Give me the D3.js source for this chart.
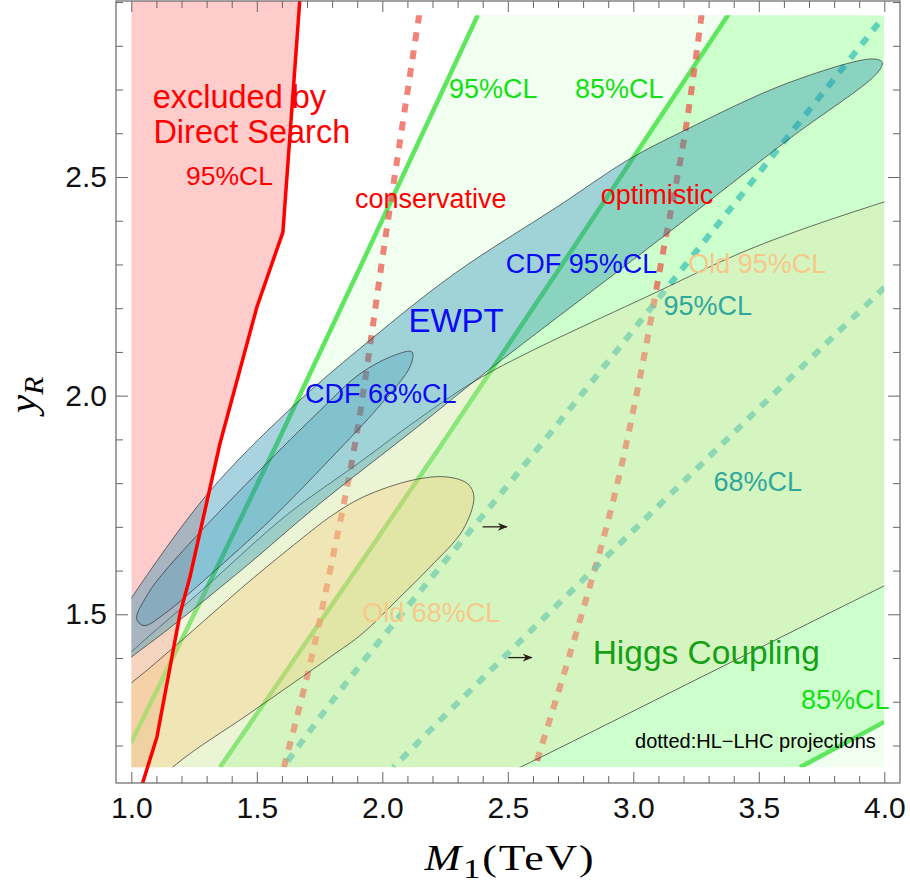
<!DOCTYPE html>
<html>
<head>
<meta charset="utf-8">
<script src="https://cdnjs.cloudflare.com/ajax/libs/d3/7.8.5/d3.min.js"></script>
<style>
  body { margin: 0; background: #fff; }
  svg { display: block; font-family: "Liberation Sans", Arial, sans-serif; }
</style>
</head>
<body>
<div id="chart-container"></div>
<script>
// plot range in data units
const xRange = [1.0, 4.0];
const yRange = [1.15, 2.87];

// ticks
const xMajorTicks = [1.0, 1.5, 2.0, 2.5, 3.0, 3.5, 4.0];
const xMinorTicks = [1.1, 1.2, 1.3, 1.4, 1.6, 1.7, 1.8, 1.9, 2.1, 2.2, 2.3, 2.4,
                     2.6, 2.7, 2.8, 2.9, 3.1, 3.2, 3.3, 3.4, 3.6, 3.7, 3.8, 3.9];
const yMajorTicks = [1.5, 2.0, 2.5];
const yMinorTicks = [1.2, 1.3, 1.4, 1.6, 1.7, 1.8, 1.9, 2.1, 2.2, 2.3, 2.4, 2.6, 2.7, 2.8, 2.9];

// direct search exclusion boundary (M1, yR)
const directSearch95 = [[1.672, 2.91], [1.604, 2.374], [1.501, 2.204], [1.353, 1.890],
                        [1.234, 1.586], [1.194, 1.501], [1.102, 1.219], [1.040, 1.105]];

// Higgs coupling bounds
const higgs95Edge = [[1.000, 1.207], [1.579, 1.889], [2.381, 2.871]];
const higgs85Edge = [[1.353, 1.150], [2.237, 1.889], [3.378, 2.871]];
const higgs85Lower = [[3.664, 1.150], [4.000, 1.254]];

// HL-LHC projections (dotted)
const hlConservative = [[2.147, 2.871], [2.017, 2.379], [1.891, 1.889], [1.792, 1.600], [1.712, 1.386], [1.608, 1.150]];
const hlOptimistic = [[3.272, 2.871], [3.206, 2.600], [3.120, 2.333], [3.027, 2.043], [2.920, 1.760], [2.775, 1.462], [2.608, 1.150]];
const hlHiggs95 = [[3.976, 2.851], [3.138, 2.249], [2.648, 1.899], [1.871, 1.354], [1.606, 1.151]];
const hlHiggs68 = [[4.000, 2.247], [3.353, 1.889], [2.303, 1.299], [2.044, 1.150]];

// EWPT contours
const oldEwpt95 = [[1.000, 1.414], [1.274, 1.551], [1.619, 1.727], [1.911, 1.848], [2.150, 1.949], [2.409, 2.047],
                   [3.086, 2.235], [3.485, 2.340], [4.000, 2.443], [4.302, 2.493], [4.501, 2.448], [4.381, 1.670],
                   [4.000, 1.565], [3.266, 1.355], [2.549, 1.150], [2.150, 1.041], [1.473, 0.938], [0.796, 1.007],
                   [0.716, 1.258]];
const oldEwpt68 = [[1.000, 1.343], [1.234, 1.457], [1.453, 1.567], [1.672, 1.670], [1.792, 1.723], [1.923, 1.768],
                   [2.122, 1.807], [2.258, 1.814], [2.341, 1.798], [2.365, 1.768], [2.321, 1.693], [2.190, 1.608],
                   [2.059, 1.533], [1.923, 1.457], [1.792, 1.402], [1.473, 1.274], [1.166, 1.151], [0.915, 1.007],
                   [0.716, 1.098], [0.796, 1.258]];
const cdf95 = [[0.796, 1.304], [0.895, 1.441], [1.000, 1.537], [1.306, 1.777], [1.632, 1.969], [1.951, 2.127],
               [2.290, 2.280], [2.708, 2.436], [2.979, 2.539], [3.206, 2.607], [3.616, 2.715], [3.951, 2.770],
               [3.991, 2.763], [3.975, 2.740], [3.616, 2.585], [3.138, 2.372], [2.409, 2.052], [2.150, 1.933],
               [1.740, 1.748], [1.453, 1.608], [1.154, 1.469], [1.000, 1.402], [0.875, 1.345]];
const cdf68 = [[1.021, 1.490], [1.070, 1.550], [1.114, 1.585], [1.274, 1.688], [1.513, 1.830], [1.752, 1.966],
               [1.911, 2.050], [2.051, 2.093], [2.118, 2.100], [2.112, 2.068], [1.991, 1.978], [1.792, 1.855],
               [1.553, 1.715], [1.314, 1.590], [1.134, 1.502], [1.050, 1.474]];

// small arrows
const arrows = [[[2.400, 1.700], [2.496, 1.700]], [[2.502, 1.401], [2.595, 1.401]]];

const width = 910;
const height = 888;
const frame = {left: 116, right: 900, top: 1, bottom: 783};

const x = d3.scaleLinear().domain([0.939, 4.0625]).range([frame.left, frame.right]);
const y = d3.scaleLinear().domain([1.1142, 2.9025]).range([frame.bottom, frame.top]);

const svg = d3.select("#chart-container")
    .append("svg")
    .attr("width", width)
    .attr("height", height);

const defs = svg.append("defs");
defs.append("clipPath").attr("id", "plot-clip")
    .append("rect")
    .attr("x", x(xRange[0])).attr("y", y(yRange[1]))
    .attr("width", x(xRange[1]) - x(xRange[0]))
    .attr("height", y(yRange[0]) - y(yRange[1]));
defs.append("clipPath").attr("id", "frame-clip")
    .append("rect")
    .attr("x", frame.left).attr("y", frame.top)
    .attr("width", frame.right - frame.left)
    .attr("height", frame.bottom - frame.top);
defs.append("clipPath").attr("id", "red-clip")
    .append("rect")
    .attr("x", x(xRange[0])).attr("y", frame.top)
    .attr("width", frame.right - x(xRange[0]))
    .attr("height", y(yRange[0]) - frame.top);
defs.append("marker")
    .attr("id", "arrowhead")
    .attr("viewBox", "0 0 10 8")
    .attr("refX", 9).attr("refY", 4)
    .attr("markerWidth", 10).attr("markerHeight", 8)
    .attr("markerUnits", "userSpaceOnUse")
    .attr("orient", "auto")
    .append("path")
    .attr("d", "M0,0 L10,4 L0,8 L3,4 Z")
    .attr("fill", "#2a2016");

const line = d3.line().x(d => x(d[0])).y(d => y(d[1]));
const smooth = d3.line().x(d => x(d[0])).y(d => y(d[1])).curve(d3.curveCatmullRom.alpha(0.5));
const closedSmooth = d3.line().x(d => x(d[0])).y(d => y(d[1])).curve(d3.curveCatmullRomClosed.alpha(0.5));
const polygon = d3.line().x(d => x(d[0])).y(d => y(d[1])).curve(d3.curveLinearClosed);

// Direct search excluded region
const topY = y.domain()[1];
svg.append("path")
    .attr("clip-path", "url(#red-clip)")
    .attr("d", polygon([[xRange[0], topY], ...directSearch95, [xRange[0], directSearch95[directSearch95.length - 1][1]]]))
    .attr("fill", "#ffcccc");

// Higgs coupling regions
const plot = svg.append("g").attr("clip-path", "url(#plot-clip)");
plot.append("path")
    .attr("d", polygon([...higgs95Edge, [xRange[1], yRange[1]], [xRange[1], yRange[0]], [xRange[0], yRange[0]]]))
    .attr("fill", "#00ff00").attr("fill-opacity", 0.06);
plot.append("path")
    .attr("d", polygon([...higgs85Edge, [xRange[1], yRange[1]], ...higgs85Lower.slice().reverse()]))
    .attr("fill", "#00ff00").attr("fill-opacity", 0.15);

// Direct search boundary
svg.append("path")
    .attr("clip-path", "url(#frame-clip)")
    .attr("d", line(directSearch95))
    .attr("fill", "none").attr("stroke", "#ff0000").attr("stroke-width", 3.5);

// Higgs coupling boundaries
[higgs95Edge, higgs85Edge, higgs85Lower].forEach(pts => {
    plot.append("path")
        .attr("d", smooth(pts))
        .attr("fill", "none").attr("stroke", "#5fe65f").attr("stroke-width", 4.5);
});

// HL-LHC dotted projections
[hlConservative, hlOptimistic].forEach(pts => {
    plot.append("path")
        .attr("d", smooth(pts))
        .attr("fill", "none").attr("stroke", "rgb(236,90,78)").attr("stroke-opacity", 0.75)
        .attr("stroke-width", 6).attr("stroke-dasharray", "9,9");
});
[hlHiggs95, hlHiggs68].forEach(pts => {
    plot.append("path")
        .attr("d", smooth(pts))
        .attr("fill", "none").attr("stroke", "rgb(50,190,180)").attr("stroke-opacity", 0.7)
        .attr("stroke-width", 6).attr("stroke-dasharray", "9,9");
});

// EWPT contours
const contours = [
    {pts: oldEwpt95, fill: "rgb(227,225,167)", op: 0.35},
    {pts: oldEwpt68, fill: "rgb(250,200,120)", op: 0.35},
    {pts: cdf95, fill: "rgb(40,145,178)", op: 0.4},
    {pts: cdf68, fill: "rgb(40,145,178)", op: 0.25}
];
contours.forEach(c => {
    plot.append("path")
        .attr("d", closedSmooth(c.pts))
        .attr("fill", c.fill).attr("fill-opacity", c.op)
        .attr("stroke", "#333").attr("stroke-opacity", 0.7).attr("stroke-width", 1);
});

// arrows
svg.selectAll(".arrow")
    .data(arrows)
    .enter()
    .append("path")
    .attr("class", "arrow")
    .attr("d", d => line(d))
    .attr("stroke", "#2a2016").attr("stroke-width", 1.3)
    .attr("marker-end", "url(#arrowhead)");

// frame and ticks
function styleAxis(g) {
    g.select(".domain").remove();
    g.selectAll(".tick line").attr("stroke", "#666").attr("stroke-width", 1);
    g.selectAll(".tick text").attr("fill", "#111").attr("font-size", 30)
        .attr("font-family", "'Liberation Sans', Arial, sans-serif");
}
svg.append("g").attr("transform", `translate(0,${frame.bottom})`)
    .call(d3.axisBottom(x).tickValues(xMajorTicks).tickFormat(d3.format(".1f"))
        .tickSizeInner(-11).tickSizeOuter(0).tickPadding(14))
    .call(styleAxis);
svg.append("g").attr("transform", `translate(0,${frame.bottom})`)
    .call(d3.axisBottom(x).tickValues(xMinorTicks).tickFormat("").tickSizeInner(-7).tickSizeOuter(0))
    .call(styleAxis);
svg.append("g").attr("transform", `translate(0,${frame.top})`)
    .call(d3.axisTop(x).tickValues(xMajorTicks).tickFormat("").tickSizeInner(-11).tickSizeOuter(0))
    .call(styleAxis);
svg.append("g").attr("transform", `translate(0,${frame.top})`)
    .call(d3.axisTop(x).tickValues(xMinorTicks).tickFormat("").tickSizeInner(-7).tickSizeOuter(0))
    .call(styleAxis);
svg.append("g").attr("transform", `translate(${frame.left},0)`)
    .call(d3.axisLeft(y).tickValues(yMajorTicks).tickFormat(d3.format(".1f"))
        .tickSizeInner(-12).tickSizeOuter(0).tickPadding(9))
    .call(styleAxis);
svg.append("g").attr("transform", `translate(${frame.left},0)`)
    .call(d3.axisLeft(y).tickValues(yMinorTicks).tickFormat("").tickSizeInner(-7).tickSizeOuter(0))
    .call(styleAxis);
svg.append("g").attr("transform", `translate(${frame.right},0)`)
    .call(d3.axisRight(y).tickValues(yMajorTicks).tickFormat("").tickSizeInner(-12).tickSizeOuter(0))
    .call(styleAxis);
svg.append("g").attr("transform", `translate(${frame.right},0)`)
    .call(d3.axisRight(y).tickValues(yMinorTicks).tickFormat("").tickSizeInner(-7).tickSizeOuter(0))
    .call(styleAxis);
svg.append("rect")
    .attr("x", frame.left).attr("y", frame.top)
    .attr("width", frame.right - frame.left).attr("height", frame.bottom - frame.top)
    .attr("fill", "none").attr("stroke", "#666").attr("stroke-width", 1.2);

// annotations
const notes = [
    ["excluded by", 1.085, 2.657, "#ff0000", 32.5],
    ["Direct Search", 1.088, 2.577, "#ff0000", 32.5],
    ["95%CL", 1.218, 2.482, "#ff0000", 26.5],
    ["conservative", 1.891, 2.429, "#ff0000", 27],
    ["optimistic", 2.870, 2.439, "#ff0000", 27],
    ["95%CL", 2.266, 2.680, "#12e012", 27],
    ["85%CL", 2.768, 2.680, "#12e012", 27],
    ["CDF 95%CL", 2.492, 2.281, "#0a0af5", 27],
    ["EWPT", 2.104, 2.146, "#0a0af5", 33],
    ["CDF 68%CL", 1.692, 1.983, "#0a0af5", 27],
    ["Old 95%CL", 3.219, 2.281, "#f7c88a", 27],
    ["95%CL", 3.120, 2.184, "#30a89c", 27],
    ["68%CL", 3.319, 1.783, "#30a89c", 27],
    ["Old 68%CL", 1.920, 1.483, "#f7c88a", 27],
    ["Higgs Coupling", 2.838, 1.386, "#16a016", 33.5],
    ["85%CL", 3.668, 1.283, "#12e012", 27],
    ["dotted:HL\u2212LHC projections", 3.007, 1.194, "#000", 20]
];
svg.selectAll(".note")
    .data(notes)
    .enter()
    .append("text")
    .attr("class", "note")
    .attr("x", d => x(d[1]))
    .attr("y", d => y(d[2]))
    .attr("fill", d => d[3])
    .attr("font-size", d => d[4])
    .text(d => d[0]);

// axis titles
const xTitle = svg.append("text")
    .attr("transform", `translate(${(frame.left + frame.right) / 2 + 2},870) scale(1.25,1)`)
    .attr("text-anchor", "middle")
    .attr("font-family", "'Liberation Serif', 'Times New Roman', serif")
    .attr("font-size", 35)
    .attr("letter-spacing", 1.5)
    .attr("fill", "#000");
xTitle.append("tspan").attr("font-style", "italic").text("M");
xTitle.append("tspan").attr("font-size", 28).attr("dy", 8).text("1");
xTitle.append("tspan").attr("dy", -8).text("(TeV)");

const yTitle = svg.append("text")
    .attr("transform", `translate(36,${(frame.top + frame.bottom) / 2 + 3}) rotate(-90) scale(1.1,1)`)
    .attr("text-anchor", "middle")
    .attr("font-family", "'Liberation Serif', 'Times New Roman', serif")
    .attr("font-size", 38)
    .attr("fill", "#000");
yTitle.append("tspan").attr("font-style", "italic").text("y");
yTitle.append("tspan").attr("font-style", "italic").attr("font-size", 27).attr("dy", 7).text("R");
</script>
</body>
</html>
